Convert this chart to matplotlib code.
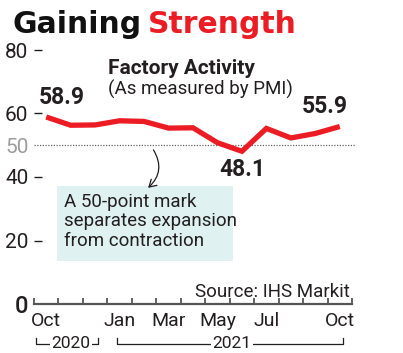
import matplotlib
matplotlib.use("Agg")
import matplotlib.pyplot as plt
from matplotlib.patches import FancyArrowPatch, Rectangle
from matplotlib.lines import Line2D

months = ["Oct", "Nov", "Dec", "Jan", "Feb", "Mar", "Apr", "May", "Jun", "Jul", "Aug", "Sep", "Oct"]
pmi = [58.9, 56.3, 56.4, 57.7, 57.5, 55.4, 55.5, 50.8, 48.1, 55.3, 52.3, 53.7, 55.9]
month_labels_idx = [0, 3, 5, 7, 9, 12]
yticks = [0, 20, 40, 50, 60, 80]
years = ["2020", "2021"]

RED = "#ec1c24"
DARK = "#231f20"
NARROW = ["Roboto", "DejaVu Sans"]

W, H = 403, 353
fig = plt.figure(figsize=(W / 100, H / 100), dpi=100)
ax = fig.add_axes([34 / W, 49 / H, 318 / W, 254 / H])
ax.set_xlim(-0.5, 12.5)
ax.set_ylim(0, 80)
for s in ["left", "top", "right"]:
    ax.spines[s].set_visible(False)
ax.spines["bottom"].set_color("#555555")
ax.spines["bottom"].set_linewidth(1.6)

x = list(range(len(pmi)))
ax.plot(x, pmi, color=RED, lw=3.8, solid_capstyle="butt", solid_joinstyle="miter", zorder=5)
ax.axhline(50, color="#666666", lw=0.9, ls=(0, (1, 1.2)), zorder=1, clip_on=False, xmax=1.01)

# y ticks
ax.set_yticks(yticks)
ax.set_yticklabels([str(v) for v in yticks])
ax.tick_params(axis="y", direction="in", length=6, width=1.0, color=DARK, pad=4,
               labelsize=15, labelcolor=DARK)
for t, v in zip(ax.yaxis.get_major_ticks(), yticks):
    t.label1.set_fontfamily(NARROW)
    if v in (0, 50):
        t.tick1line.set_visible(False)
    if v == 50:
        t.label1.set_color("#9d9d9d")
    if v == 0:
        t.label1.set_fontsize(17)
        t.label1.set_fontweight("medium")

# x ticks: boundaries as major ticks, month labels as minor
ax.set_xticks([i - 0.5 for i in range(len(months) + 1)])
ax.set_xticklabels([])
ax.tick_params(axis="x", which="major", direction="in", length=4, width=1.3, color="#555555")
ax.set_xticks(month_labels_idx, minor=True)
ax.set_xticklabels([months[i] for i in month_labels_idx], minor=True)
ax.tick_params(axis="x", which="minor", length=0, pad=6, labelsize=14, labelcolor=DARK)
for lab in ax.get_xticklabels(minor=True):
    lab.set_fontfamily(NARROW)

# year brackets
tr = ax.get_xaxis_transform()
ybr, ytop = -0.159, -0.135
for (x0, x1, xc, yr) in [(-0.4, 2.1, 1.0, years[0]), (2.9, 12.15, 7.6, years[1])]:
    ax.add_line(Line2D([x0, x0, x1, x1], [ytop, ybr, ybr, ytop], transform=tr,
                       color=DARK, lw=0.9, clip_on=False))
    ax.text(xc, ybr + 0.004, yr, transform=tr, ha="center", va="center", fontsize=12.5,
            family=NARROW, color=DARK, clip_on=False,
            bbox=dict(boxstyle="square,pad=0.08", fc="white", ec="none"))

# value labels
lab_kw = dict(textcoords="offset points", fontsize=16.5, fontweight="bold",
              family=NARROW, color=DARK)
ax.annotate(f"{pmi[0]}", (0, pmi[0]), xytext=(11, 6), ha="center", va="bottom", **lab_kw)
ax.annotate(f"{pmi[8]}", (8, pmi[8]), xytext=(0, -5), ha="center", va="top", **lab_kw)
ax.annotate(f"{pmi[12]}", (12, pmi[12]), xytext=(-11, 6), ha="center", va="bottom", **lab_kw)

# annotation box
ax.add_patch(Rectangle((0.44, 13.4), 7.2, 23.8, fc="#dff1f1", ec="none", zorder=0, clip_on=False))
ax.text(0.72, 35.0, "A 50-point mark\nseparates expansion\nfrom contraction",
        ha="left", va="top", fontsize=13.5, family=NARROW, color=DARK, linespacing=1.1)
ax.add_patch(FancyArrowPatch((4.32, 49.3), (4.08, 36.0), connectionstyle="arc3,rad=-0.45",
                             arrowstyle="->,head_length=5,head_width=3", color=DARK, lw=0.9,
                             zorder=6))

# titles
fig.text(12 / W, 1 - 33 / H, "Gaining", fontsize=21.5, fontweight="bold",
         family="DejaVu Sans", color="#111111", va="baseline")
fig.text(148 / W, 1 - 33 / H, "Strength", fontsize=21.5, fontweight="bold",
         family="DejaVu Sans", color=RED, va="baseline")
fig.text(108 / W, 1 - 74 / H, "Factory Activity", fontsize=15, fontweight="bold",
         family=NARROW, color=DARK, va="baseline")
fig.text(108 / W, 1 - 95 / H, "(As measured by PMI)", fontsize=13.5, family=NARROW,
         color=DARK, va="baseline")
fig.text(350 / W, 1 - 297 / H, "Source: IHS Markit", fontsize=13.5, family=NARROW,
         color=DARK, va="baseline", ha="right")

fig.savefig("out.png", dpi=100)
